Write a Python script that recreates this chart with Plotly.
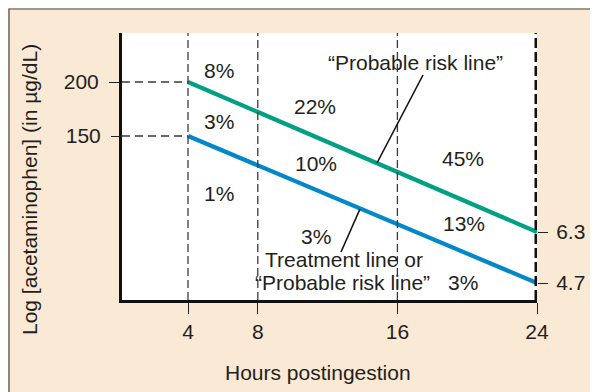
import math
import plotly.graph_objects as go

# ---------------- data ----------------
hour_ticks = [4, 8, 16, 24]
line_hours = [4, 24]
probable_risk_line = [200, 6.3]      # green (upper) line
treatment_line = [150, 4.7]          # blue (lower) line
left_tick_labels = ["200", "150"]
right_tick_labels = ["6.3", "4.7"]
region_labels = ["8%", "3%", "1%", "22%", "10%", "3%", "45%", "13%", "3%"]

# ---------------- layout geometry (screen pixels) ----------------
OFF = 8                      # page body margin
SL, ST, SR, SB = 122, 33, 537, 300
PW, PH = SR - SL, SB - ST
W, H = 598 - OFF, 392 - OFF
ML, MT = SL - OFF, ST - OFF
MR, MB = W - ML - PW, H - MT - PH

FONT = "Liberation Sans, Arial, Helvetica, sans-serif"
TXT = "#231f20"
GREEN = "#00a085"
BLUE = "#0088c8"
BEIGE = "#fae9d5"
DASH = "#3a3a3a"
FS = 21


def pxx(x):
    return (x - SL) / PW


def pyy(y):
    return 1 - (y - ST) / PH


# x scale: 4 h at px 188, 24 h at right edge
ppx = (SR - 188) / (line_hours[1] - line_hours[0])
x_range = [line_hours[0] - (188 - SL) / ppx, line_hours[1]]


def log_range(v_top, py_top, v_bot, py_bot):
    a, b = math.log10(v_top), math.log10(v_bot)
    ppd = (py_bot - py_top) / (a - b)
    return [b - (SB - py_bot) / ppd, a + (py_top - ST) / ppd]


g_range = log_range(probable_risk_line[0], 82, probable_risk_line[1], 232)
b_range = log_range(treatment_line[0], 136, treatment_line[1], 283)

fig = go.Figure()

# horizontal dashed guides from the axis to the 4 h start points
fig.add_trace(go.Scatter(x=[x_range[0], line_hours[0]], y=[probable_risk_line[0]] * 2,
                         mode="lines", yaxis="y",
                         line=dict(color=DASH, width=1.3, dash="8px,5px"),
                         hoverinfo="skip", showlegend=False))
fig.add_trace(go.Scatter(x=[x_range[0], line_hours[0]], y=[treatment_line[0]] * 2,
                         mode="lines", yaxis="y2",
                         line=dict(color=DASH, width=1.3, dash="8px,5px"),
                         hoverinfo="skip", showlegend=False))

# main lines
fig.add_trace(go.Scatter(x=line_hours, y=probable_risk_line, mode="lines", yaxis="y",
                         line=dict(color=GREEN, width=4.2), showlegend=False))
fig.add_trace(go.Scatter(x=line_hours, y=treatment_line, mode="lines", yaxis="y2",
                         line=dict(color=BLUE, width=4.2), showlegend=False))
# invisible traces to activate right-hand axes
fig.add_trace(go.Scatter(x=[line_hours[1]], y=[probable_risk_line[1]], yaxis="y3",
                         mode="markers", marker=dict(opacity=0), hoverinfo="skip", showlegend=False))
fig.add_trace(go.Scatter(x=[line_hours[1]], y=[treatment_line[1]], yaxis="y4",
                         mode="markers", marker=dict(opacity=0), hoverinfo="skip", showlegend=False))

shapes = []
for h in hour_ticks[:-1]:
    shapes.append(dict(type="line", xref="x", yref="paper", x0=h, x1=h, y0=0, y1=1,
                       line=dict(color=DASH, width=1.3, dash="8px,4px")))
shapes.append(dict(type="line", xref="x", yref="paper", x0=hour_ticks[-1], x1=hour_ticks[-1],
                   y0=0, y1=1, line=dict(color="#111", width=5, dash="10px,4px")))
# leader lines
shapes.append(dict(type="line", xref="paper", yref="paper", x0=pxx(423), y0=pyy(75),
                   x1=pxx(377), y1=pyy(163), line=dict(color="#111", width=1.6)))
shapes.append(dict(type="line", xref="paper", yref="paper", x0=pxx(360), y0=pyy(209),
                   x1=pxx(341), y1=pyy(252), line=dict(color="#111", width=1.6)))
# thin outer frame (top-left corner visible)
shapes.append(dict(type="rect", xref="paper", yref="paper", x0=pxx(9), y0=pyy(600),
                   x1=pxx(800), y1=pyy(9), line=dict(color="#444", width=1.2),
                   fillcolor="rgba(0,0,0,0)", layer="above"))

label_pos = [(219, 70), (219, 122), (219, 193), (315, 106), (316, 163), (316, 236),
             (463, 158), (464, 223), (463, 282)]
annotations = []
for txt, (x, y) in zip(region_labels, label_pos):
    annotations.append(dict(text=txt, x=pxx(x), y=pyy(y), xref="paper", yref="paper",
                            showarrow=False, xanchor="center", yanchor="middle",
                            font=dict(size=FS, color=TXT, family=FONT)))
for txt, (x, y) in [("“Probable risk line”", (415, 62)),
                    ("Treatment line or", (344, 259)),
                    ("“Probable risk line”", (342, 282))]:
    annotations.append(dict(text=txt, x=pxx(x), y=pyy(y), xref="paper", yref="paper",
                            showarrow=False, xanchor="center", yanchor="middle",
                            font=dict(size=FS, color=TXT, family=FONT)))
annotations.append(dict(text="Hours postingestion", x=pxx(318), y=pyy(372), xref="paper", yref="paper",
                        showarrow=False, xanchor="center", yanchor="middle",
                        font=dict(size=FS, color=TXT, family=FONT)))
annotations.append(dict(text="Log [acetaminophen] (in µg/dL)", x=pxx(29), y=pyy(190),
                        xref="paper", yref="paper", textangle=-90,
                        showarrow=False, xanchor="center", yanchor="middle",
                        font=dict(size=FS, color=TXT, family=FONT)))

tickfont = dict(size=FS, color=TXT, family=FONT)
common_y = dict(type="log", showgrid=False, zeroline=False, fixedrange=True,
                ticks="outside", ticklen=10, tickwidth=1.4, tickcolor="#222",
                tickfont=tickfont, tickmode="array")

fig.update_layout(
    width=W, height=H,
    margin=dict(l=ML, r=MR, t=MT, b=MB, pad=0),
    paper_bgcolor=BEIGE,
    plot_bgcolor="white",
    showlegend=False,
    xaxis=dict(range=x_range, showgrid=False, zeroline=False, tickmode="array",
               tickvals=hour_ticks, ticktext=[str(h) for h in hour_ticks],
               ticks="outside", ticklen=11, tickwidth=1.4, tickcolor="#222",
               tickfont=tickfont, showline=True, linecolor="#111", linewidth=3,
               ticklabelstandoff=0),
    yaxis=dict(range=g_range, tickvals=[probable_risk_line[0]], ticktext=[left_tick_labels[0]],
               showline=True, linecolor="#111", linewidth=3, side="left",
               ticklabelstandoff=6, **common_y),
    yaxis2=dict(range=b_range, tickvals=[treatment_line[0]], ticktext=[left_tick_labels[1]],
                overlaying="y", side="left", showline=False, ticklabelstandoff=6, **common_y),
    yaxis3=dict(range=g_range, tickvals=[probable_risk_line[1]], ticktext=[right_tick_labels[0]],
                overlaying="y", side="right", showline=False, ticklabelstandoff=4, **common_y),
    yaxis4=dict(range=b_range, tickvals=[treatment_line[1]], ticktext=[right_tick_labels[1]],
                overlaying="y", side="right", showline=False, ticklabelstandoff=4, **common_y),
    shapes=shapes,
    annotations=annotations,
)

fig.write_html("out.html")
